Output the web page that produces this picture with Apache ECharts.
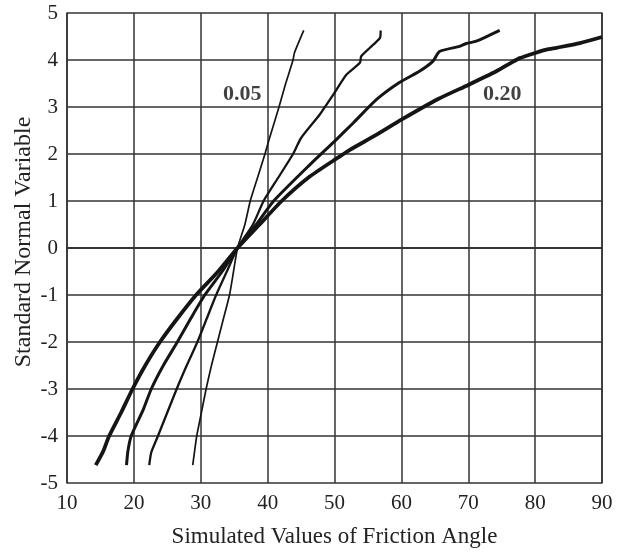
<!DOCTYPE html>
<html>
<head>
<meta charset="utf-8">
<script src="https://cdn.jsdelivr.net/npm/echarts@6/dist/echarts.min.js"></script>
<style>
html,body{margin:0;padding:0;background:#fff;}
#c{width:629px;height:553px;}
</style>
</head>
<body>
<div id="c"></div>
<script>
// Curve data (x = friction angle, y = standard normal variable)
var curve005X = [28.8, 29.1, 29.4, 30.1, 30.8, 31.6, 32.5, 33.4, 34.3, 34.9, 35.5, 36.6, 37.4, 38.5, 39.6, 40.2, 41.7, 42.7, 43.8, 44.0, 45.4];
var curve005Y = [-4.62, -4.3, -4.0, -3.5, -3.0, -2.5, -2.0, -1.5, -1.0, -0.5, 0, 0.5, 1.0, 1.5, 2.0, 2.3, 3.0, 3.5, 4.0, 4.15, 4.63];

var curve010X = [22.3, 22.6, 23.6, 26.4, 27.9, 29.5, 30.9, 32.3, 33.9, 35.5, 37.8, 39.4, 41.6, 43.8, 45.0, 47.8, 49.9, 51.8, 53.8, 54.0, 55.3, 56.8, 56.9];
var curve010Y = [-4.62, -4.35, -4.0, -3.0, -2.5, -2.0, -1.5, -1.0, -0.5, 0, 0.5, 1.0, 1.5, 2.0, 2.34, 2.84, 3.28, 3.69, 3.94, 4.08, 4.26, 4.47, 4.63];

var curve015X = [18.9, 19.1, 19.6, 21.4, 22.6, 24.4, 26.5, 28.5, 30.6, 33.2, 35.5, 38.3, 40.9, 46.3, 50.0, 52.8, 56.3, 59.7, 62.7, 64.7, 65.7, 68.7, 69.7, 71.2, 74.7];
var curve015Y = [-4.62, -4.33, -4.0, -3.44, -3.0, -2.5, -2.0, -1.5, -1.0, -0.5, 0, 0.5, 1.0, 1.77, 2.27, 2.66, 3.16, 3.52, 3.76, 3.97, 4.18, 4.29, 4.35, 4.40, 4.63];

var curve020X = [14.3, 15.4, 16.3, 18.1, 19.8, 21.7, 23.9, 26.5, 29.3, 32.6, 35.5, 38.8, 42.1, 46.3, 50.8, 52.3, 56.3, 60.0, 65.5, 70.0, 74.2, 76.4, 77.7, 80.0, 81.7, 83.2, 86.7, 90.0];
var curve020Y = [-4.62, -4.33, -4.0, -3.5, -3.0, -2.5, -2.0, -1.5, -1.0, -0.5, 0, 0.5, 1.0, 1.52, 1.95, 2.09, 2.41, 2.73, 3.17, 3.47, 3.76, 3.94, 4.04, 4.15, 4.22, 4.26, 4.36, 4.49];

var labelTexts = ['0.05', '0.20'];
var labelX = [36.2, 75.1];
var labelY = [3.28, 3.28];

var xTicks = [10, 20, 30, 40, 50, 60, 70, 80, 90];
var yTicks = [-5, -4, -3, -2, -1, 0, 1, 2, 3, 4, 5];

function pairs(xs, ys) { return xs.map(function (x, i) { return [x, ys[i]]; }); }

var FONT = '"Liberation Serif", "Times New Roman", serif';
var chart = echarts.init(document.getElementById('c'), null, {renderer: 'canvas'});

function lineSeries(xs, ys, w) {
  return {
    type: 'line', data: pairs(xs, ys), showSymbol: false, symbol: 'none',
    lineStyle: {color: '#151515', width: w}, smooth: 0.2, animation: false, z: 3
  };
}

var frameAxis = {axisLabel: {show: false}, axisTick: {show: false}, splitLine: {show: false},
  axisLine: {show: true, lineStyle: {color: '#333', width: 1.5}}};

chart.setOption({
  animation: false,
  backgroundColor: '#fff',
  grid: {left: 67, right: 27, top: 13, bottom: 70, containLabel: false},
  xAxis: [{
    type: 'value', min: xTicks[0], max: xTicks[xTicks.length - 1], interval: 10,
    name: 'Simulated Values of Friction Angle', nameLocation: 'middle', nameGap: 42,
    nameTextStyle: {fontFamily: FONT, fontSize: 23, color: '#222'},
    axisLine: {show: true, lineStyle: {color: '#333', width: 1.5}},
    axisTick: {show: false},
    axisLabel: {fontFamily: FONT, fontSize: 21, color: '#222', margin: 10},
    splitLine: {show: true, lineStyle: {color: '#333', width: 1.5}}
  }, Object.assign({type: 'value', position: 'top', min: xTicks[0], max: xTicks[xTicks.length - 1], interval: 10}, frameAxis)],
  yAxis: [{
    type: 'value', min: yTicks[0], max: yTicks[yTicks.length - 1], interval: 1,
    name: 'Standard Normal Variable', nameLocation: 'middle', nameGap: 31,
    nameMoveOverlap: false,
    nameTextStyle: {fontFamily: FONT, fontSize: 24, color: '#222', padding: [0, 0, 0, 12]},
    axisLine: {show: true, lineStyle: {color: '#333', width: 1.5}},
    axisTick: {show: false},
    axisLabel: {fontFamily: FONT, fontSize: 21, color: '#222', margin: 9},
    splitLine: {show: true, lineStyle: {color: '#333', width: 1.5}}
  }, Object.assign({type: 'value', position: 'right', min: yTicks[0], max: yTicks[yTicks.length - 1], interval: 1}, frameAxis)],
  series: [
    lineSeries(curve005X, curve005Y, 1.7),
    lineSeries(curve010X, curve010Y, 2.3),
    lineSeries(curve015X, curve015Y, 3),
    lineSeries(curve020X, curve020Y, 3.8),
    {
      type: 'scatter', symbolSize: 0, silent: true, z: 5,
      data: labelTexts.map(function (t, i) { return {value: [labelX[i], labelY[i]], name: t}; }),
      label: {
        show: true, position: 'inside', formatter: function (p) { return p.name; },
        fontFamily: FONT, fontSize: 22, fontWeight: 'bold', color: '#111',
        backgroundColor: '#fff', padding: [1, 2]
      }
    }
  ]
});
</script>
</body>
</html>
